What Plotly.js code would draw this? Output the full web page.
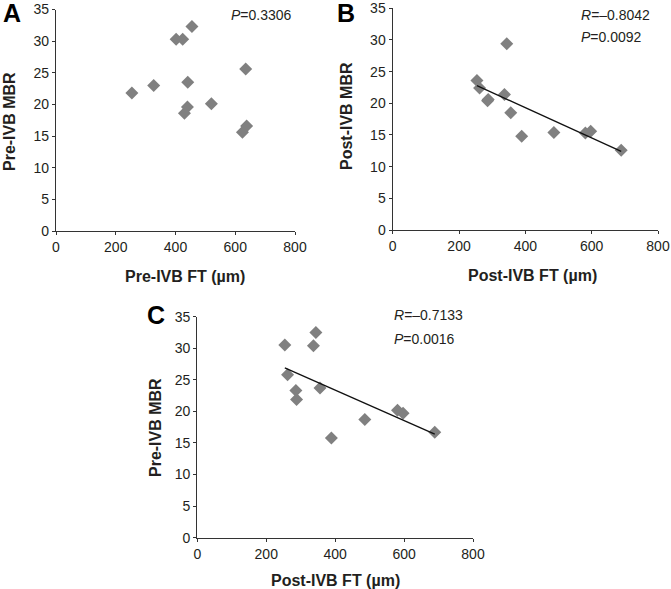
<!DOCTYPE html>
<html><head><meta charset="utf-8">
<script src="https://cdn.plot.ly/plotly-3.0.1.min.js"></script>
<style>body{margin:0;padding:0;background:#fff}#chart{width:671px;height:589px}</style>
</head><body><div id="chart"></div>
<script>
// Panel A: Pre-IVB FT vs Pre-IVB MBR
var preFT  = [254, 327, 402, 424, 455, 441, 440, 430, 520, 635, 624, 638];
var preMBR_A = [21.8, 23.0, 30.3, 30.3, 32.3, 23.5, 19.6, 18.6, 20.1, 25.6, 15.6, 16.6];
// Panel B: Post-IVB FT vs Post-IVB MBR
var postFT = [254, 262, 286, 288, 337, 344, 356, 389, 486, 581, 597, 689];
var postMBR = [23.6, 22.4, 20.4, 20.6, 21.4, 29.4, 18.5, 14.8, 15.4, 15.3, 15.6, 12.6];
// Panel C: Post-IVB FT vs Pre-IVB MBR
var preMBR_C = [30.5, 25.8, 23.3, 21.9, 30.4, 32.5, 23.7, 15.8, 18.7, 20.2, 19.7, 16.7];
// Trend lines
var trendB_x = [254, 689], trendB_y = [22.8, 12.4];
var trendC_x = [254, 689], trendC_y = [26.9, 16.4];
var xTicks = [0, 200, 400, 600, 800];
var yTicks = [0, 5, 10, 15, 20, 25, 30, 35];

var W = 671, H = 589;
function dx(a, b) { return [a / W, b / W]; }
function dy(top, bot) { return [(H - bot) / H, (H - top) / H]; }

var txt = '#231f20';
var mk = {symbol: 'diamond', size: 10, color: '#808080', line: {width: 0}};
var ln = {color: '#111', width: 1.3};

var traces = [
  {x: preFT, y: preMBR_A, type: 'scatter', mode: 'markers', marker: mk, xaxis: 'x', yaxis: 'y'},
  {x: postFT, y: postMBR, type: 'scatter', mode: 'markers', marker: mk, xaxis: 'x2', yaxis: 'y2'},
  {x: trendB_x, y: trendB_y, type: 'scatter', mode: 'lines', line: ln, xaxis: 'x2', yaxis: 'y2'},
  {x: postFT, y: preMBR_C, type: 'scatter', mode: 'markers', marker: mk, xaxis: 'x3', yaxis: 'y3'},
  {x: trendC_x, y: trendC_y, type: 'scatter', mode: 'lines', line: ln, xaxis: 'x3', yaxis: 'y3'}
];

function xa(dom, anchor) {
  return {domain: dom, anchor: anchor, range: [0, 800], tickvals: xTicks, ticks: 'outside', ticklen: 3,
    tickcolor: '#333', showline: true, linecolor: '#333', linewidth: 1.2, showgrid: false, zeroline: false,
    tickfont: {family: 'Liberation Sans, Arial, sans-serif', size: 14, color: txt}, fixedrange: true};
}
function ya(dom, anchor) {
  return {domain: dom, anchor: anchor, range: [0, 35], tickvals: yTicks, ticks: 'outside', ticklen: 3,
    tickcolor: '#333', showline: true, linecolor: '#333', linewidth: 1.2, showgrid: false, zeroline: false,
    tickfont: {family: 'Liberation Sans, Arial, sans-serif', size: 14, color: txt}, fixedrange: true};
}

function ann(text, x, y, opts) {
  var a = {text: text, x: x / W, y: (H - y) / H, xref: 'paper', yref: 'paper', showarrow: false,
    font: {family: 'Liberation Sans, Arial, sans-serif', size: 14, color: txt}, xanchor: 'left', yanchor: 'middle'};
  for (var k in opts) a[k] = opts[k];
  return a;
}
var tf = {family: 'Liberation Sans, Arial, sans-serif', size: 16, color: txt};
var lf = {family: 'Liberation Sans, Arial, sans-serif', size: 25, color: '#000'};

var annotations = [
  ann('<b>A</b>', 1, 13, {font: lf}),
  ann('<b>B</b>', 335, 13, {font: lf}),
  ann('<b>C</b>', 145, 315, {font: lf}),
  ann('<i>P</i>=0.3306', 229, 15),
  ann('<i>R</i>=–0.8042', 579, 15),
  ann('<i>P</i>=0.0092', 579, 37),
  ann('<i>R</i>=–0.7133', 392, 315),
  ann('<i>P</i>=0.0016', 392, 339),
  ann('<b>Pre-IVB FT (µm)</b>', 185, 276, {xanchor: 'center', font: tf}),
  ann('<b>Pre-IVB MBR</b>', 10, 122, {xanchor: 'center', textangle: -90, font: tf}),
  ann('<b>Post-IVB FT (µm)</b>', 532, 275, {xanchor: 'center', font: tf}),
  ann('<b>Post-IVB MBR</b>', 347, 116, {xanchor: 'center', textangle: -90, font: tf}),
  ann('<b>Post-IVB FT (µm)</b>', 335, 580, {xanchor: 'center', font: tf}),
  ann('<b>Pre-IVB MBR</b>', 155, 428, {xanchor: 'center', textangle: -90, font: tf})
];

var layout = {
  width: W, height: H, margin: {l: 0, r: 0, t: 0, b: 0}, showlegend: false,
  paper_bgcolor: '#fff', plot_bgcolor: '#fff',
  xaxis: xa(dx(56, 295), 'y'), yaxis: ya(dy(9.5, 231), 'x'),
  xaxis2: xa(dx(392.7, 658), 'y2'), yaxis2: ya(dy(8.3, 230), 'x2'),
  xaxis3: xa(dx(197.3, 473), 'y3'), yaxis3: ya(dy(316.7, 537.7), 'x3'),
  annotations: annotations
};
Plotly.newPlot('chart', traces, layout, {staticPlot: true, displayModeBar: false});
</script></body></html>
